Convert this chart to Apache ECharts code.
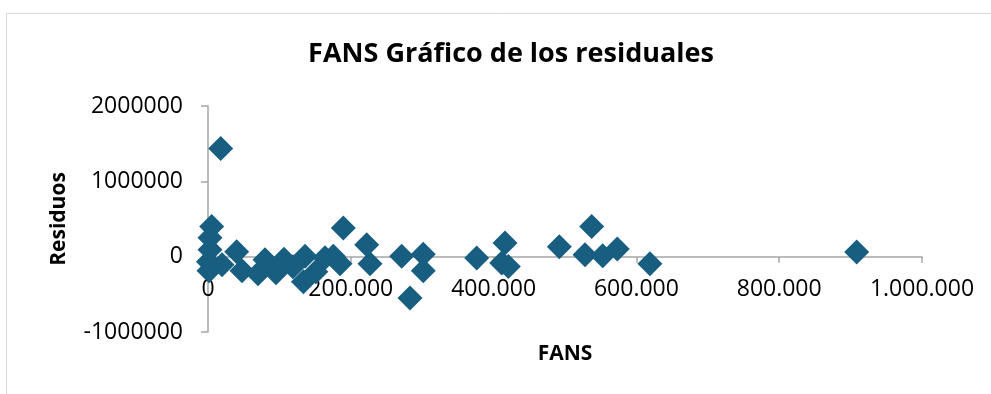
<!DOCTYPE html>
<html>
<head>
<meta charset="utf-8">
<script src="https://cdn.jsdelivr.net/npm/echarts@6/dist/echarts.min.js"></script>
<style>
  html, body { margin: 0; padding: 0; background: #ffffff; }
  #chart { width: 991px; height: 394px; }
</style>
</head>
<body>
<div id="chart"></div>
<script>
// FANS values (x) and their regression residuals (y)
const fans = [
  17800, 5200, 2800, 2800, 500, 1400, 19600, 40200, 47600, 70000,
  79800, 95200, 106400, 119000, 135900, 133700, 151000, 163900, 175500, 184900,
  189500, 222300, 226900, 271300, 282900, 301500, 301500, 376300, 416000, 411300,
  420600, 492000, 537400, 528000, 552800, 573200, 619000, 908500
];
const residuos = [
  1435000, 402000, 252000, 93000, -66000, -186000, -106000, 66000, -186000, -226000,
  -40000, -212000, -33000, -133000, 4000, -332000, -200000, -13000, 4000, -93000,
  381000, 159000, -93000, 4000, -548000, 33000, -186000, -17000, 182000, -84000,
  -129000, 133000, 402000, 27000, 13000, 102000, -93000, 62000
];

// axis ranges
const xMin = 0, xMax = 1000000, xStep = 200000;
const yMin = -1000000, yMax = 2000000, yStep = 1000000;

const points = fans.map((x, i) => [x, residuos[i]]);

const FONT = '"Open Sans", Lato, sans-serif';
const AXIS_GREY = '#a6a6a6';

const GRID = { left: 208, right: 69, top: 106, bottom: 62 };
const plotH = 394 - GRID.top - GRID.bottom;
// the X axis crosses the vertical axis at zero
const zeroShift = plotH * (0 - yMin) / (yMax - yMin);

function thousands(v) {
  return String(v).replace(/\B(?=(\d{3})+(?!\d))/g, '.');
}

const chart = echarts.init(document.getElementById('chart'), null, { renderer: 'canvas' });
chart.setOption({
  animation: false,
  backgroundColor: '#ffffff',
  title: {
    text: 'FANS Gráfico de los residuales',
    left: 506,
    top: 36,
    textAlign: 'center',
    textStyle: { fontFamily: FONT, fontWeight: 'bold', fontSize: 27, color: '#000000' }
  },
  graphic: [{
    type: 'rect',
    silent: true,
    shape: { x: 6.5, y: 13.5, width: 1100, height: 500 },
    style: { fill: 'none', stroke: '#d9d9d9', lineWidth: 1 }
  }],
  grid: Object.assign({ containLabel: false, outerBoundsMode: 'none' }, GRID),
  xAxis: {
    type: 'value',
    min: xMin,
    max: xMax,
    interval: xStep,
    position: 'bottom',
    offset: -zeroShift,
    name: 'FANS',
    nameLocation: 'middle',
    nameGap: 87,
    nameTextStyle: { fontFamily: FONT, fontWeight: 'bold', fontSize: 21, color: '#000000' },
    axisLine: { onZero: false, lineStyle: { color: AXIS_GREY, width: 1.5 } },
    axisTick: { show: true, length: 6, lineStyle: { color: AXIS_GREY, width: 1.5 } },
    axisLabel: {
      margin: 21,
      fontFamily: FONT, fontSize: 23, color: '#000000',
      formatter: v => thousands(v)
    },
    splitLine: { show: false }
  },
  yAxis: {
    type: 'value',
    min: yMin,
    max: yMax,
    interval: yStep,
    name: 'Residuos',
    nameLocation: 'middle',
    nameGap: 138,
    nameTextStyle: { fontFamily: FONT, fontWeight: 'bold', fontSize: 21, color: '#000000' },
    axisLine: { show: true, onZero: false, lineStyle: { color: AXIS_GREY, width: 1.5 } },
    axisTick: { show: true, length: 7, lineStyle: { color: AXIS_GREY, width: 1.5 } },
    axisLabel: {
      margin: 25,
      fontFamily: FONT, fontSize: 23, color: '#000000',
      formatter: v => String(v)
    },
    splitLine: { show: false }
  },
  series: [{
    type: 'scatter',
    symbol: 'diamond',
    symbolSize: 25,
    data: points,
    itemStyle: { color: '#185e80', opacity: 1 }
  }]
});
</script>
</body>
</html>
